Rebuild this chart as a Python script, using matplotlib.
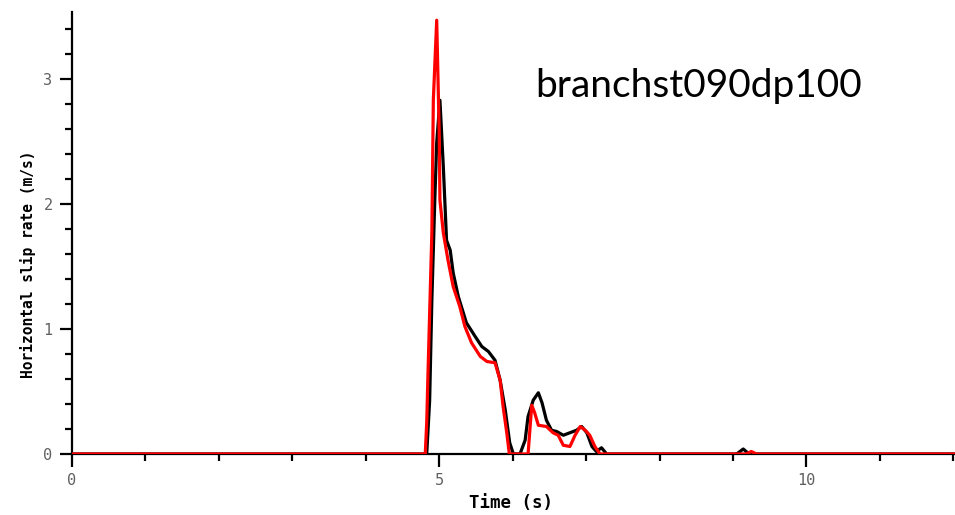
import matplotlib
matplotlib.use("Agg")
import matplotlib.pyplot as plt
from matplotlib.ticker import MultipleLocator

# ---- data ----
t_black = [0.0, 4.83, 4.87, 4.90, 4.94, 4.966, 5.01, 5.056, 5.10, 5.15, 5.19, 5.26,
           5.37, 5.49, 5.58, 5.67, 5.76, 5.83, 5.90, 5.96, 6.01, 6.10, 6.17, 6.21,
           6.28, 6.35, 6.40, 6.46, 6.53, 6.60, 6.69, 6.78, 6.87, 6.94, 7.01, 7.08,
           7.14, 7.21, 7.28, 9.05, 9.14, 9.22, 12.1]
v_black = [0.0, 0.0, 0.43, 1.23, 2.03, 2.49, 2.83, 2.30, 1.71, 1.63, 1.45, 1.26,
           1.05, 0.94, 0.86, 0.82, 0.75, 0.59, 0.35, 0.09, 0.0, 0.0, 0.11, 0.30,
           0.43, 0.49, 0.41, 0.27, 0.19, 0.18, 0.15, 0.17, 0.19, 0.22, 0.17, 0.06,
           0.02, 0.05, 0.0, 0.0, 0.04, 0.0, 0.0]

t_red = [0.0, 4.81, 4.83, 4.85, 4.90, 4.92, 4.966, 5.00, 5.01, 5.056, 5.12, 5.19,
         5.28, 5.35, 5.44, 5.56, 5.65, 5.76, 5.83, 5.87, 5.92, 5.955, 6.21, 6.26,
         6.30, 6.35, 6.46, 6.55, 6.62, 6.69, 6.78, 6.85, 6.92, 6.99, 7.05, 7.12,
         7.19, 9.18, 9.25, 9.32, 12.1]
v_red = [0.0, 0.0, 0.25, 0.70, 1.77, 2.83, 3.47, 2.57, 2.03, 1.77, 1.55, 1.34,
         1.18, 1.02, 0.89, 0.78, 0.74, 0.73, 0.59, 0.38, 0.17, 0.0, 0.0, 0.39,
         0.33, 0.23, 0.22, 0.17, 0.15, 0.07, 0.06, 0.15, 0.22, 0.19, 0.15, 0.06,
         0.0, 0.0, 0.02, 0.0, 0.0]

x_ticks = [0, 5, 10]
y_ticks = [0, 1, 2, 3]
title_text = "branchst090dp100"
x_label = "Time (s)"
y_label = "Horizontal slip rate (m/s)"

fig = plt.figure(figsize=(9.55, 5.15), dpi=100)
ax = fig.add_axes([72 / 955, 1 - 454 / 515, 1 - 72 / 955, (454 - 12) / 515])

ax.plot(t_black, v_black, color="black", lw=2.3, solid_joinstyle="round", zorder=3)
ax.plot(t_red, v_red, color="#ff0000", lw=2.3, solid_joinstyle="round", zorder=4)

ax.set_xlim(0, (955 - 72) / 73.44)
ax.set_ylim(0, (454 - 12) / 125.0)

for s in ["top", "right"]:
    ax.spines[s].set_visible(False)
for s in ["left", "bottom"]:
    ax.spines[s].set_linewidth(1.6)
    ax.spines[s].set_color("black")

ax.set_xticks(x_ticks)
ax.set_yticks(y_ticks)
ax.xaxis.set_minor_locator(MultipleLocator(1))
ax.yaxis.set_minor_locator(MultipleLocator(0.2))
ax.tick_params(axis="both", which="major", length=9, width=1.6, color="black",
               labelsize=11, labelcolor="#606060", pad=5)
ax.tick_params(axis="both", which="minor", length=5, width=1.6, color="black")
for lab in ax.get_xticklabels() + ax.get_yticklabels():
    lab.set_family("DejaVu Sans Mono")

ax.set_xlabel(x_label, family="DejaVu Sans Mono", fontweight="bold", fontsize=12.5)
ax.xaxis.set_label_coords((511 - 72) / 883, -(503 - 454) / 442)
ax.xaxis.label.set_va("center")
ax.set_ylabel(y_label, family="DejaVu Sans Mono", fontweight="bold", fontsize=10.5)
ax.yaxis.set_label_coords(-(72 - 28) / 883, (454 - 264) / 442)
ax.yaxis.label.set_va("center")

fig.text(535 / 955, 1 - 97 / 515, title_text, family="Lato", fontsize=28,
         va="baseline", ha="left", color="black")

fig.savefig("out.png", dpi=100)
